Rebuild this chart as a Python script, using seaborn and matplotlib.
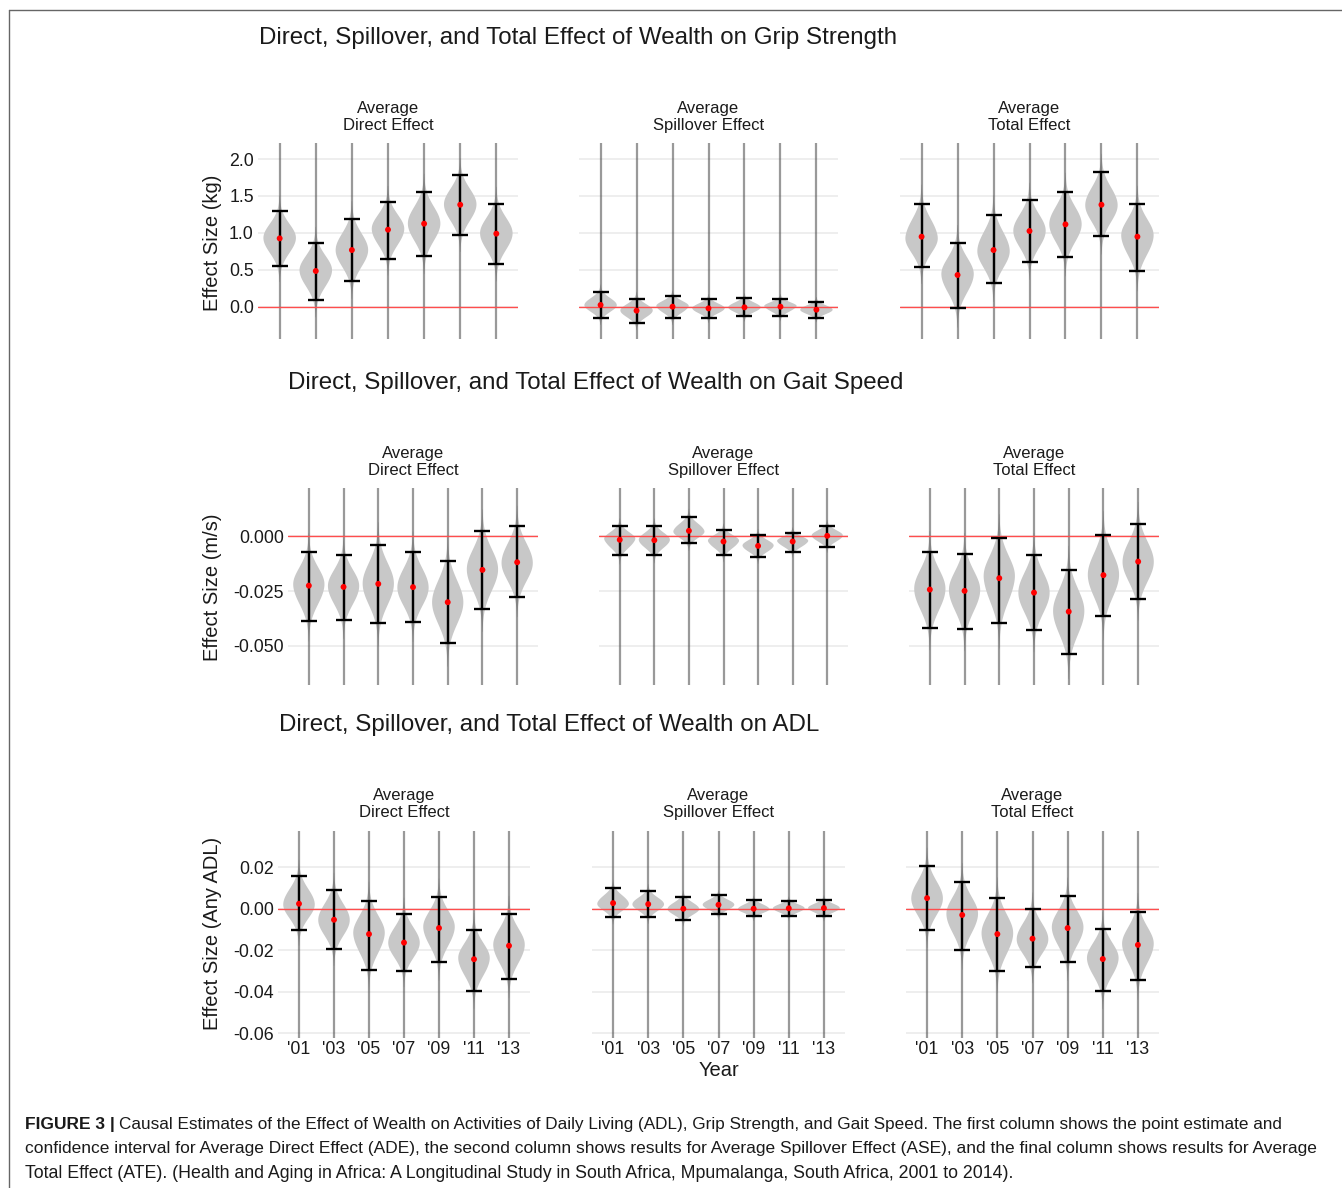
import numpy as np
import pandas as pd
import matplotlib
matplotlib.use("Agg")
import matplotlib.pyplot as plt
from matplotlib.lines import Line2D
import seaborn as sns
from statistics import NormalDist

years = ["'01", "'03", "'05", "'07", "'09", "'11", "'13"]
effect_names = ["Average\nDirect Effect", "Average\nSpillover Effect", "Average\nTotal Effect"]

# Grip strength (kg): point estimate, CI low, CI high
grip_direct_est = [0.925, 0.483, 0.767, 1.043, 1.124, 1.381, 0.989]
grip_direct_lo = [0.55, 0.086, 0.348, 0.650, 0.691, 0.975, 0.578]
grip_direct_hi = [1.29, 0.862, 1.187, 1.418, 1.553, 1.779, 1.391]
grip_spill_est = [0.023, -0.054, 0.0, -0.023, -0.009, 0.0, -0.041]
grip_spill_lo = [-0.149, -0.221, -0.158, -0.149, -0.131, -0.126, -0.149]
grip_spill_hi = [0.199, 0.108, 0.14, 0.099, 0.113, 0.108, 0.068]
grip_total_est = [0.948, 0.429, 0.767, 1.025, 1.115, 1.381, 0.948]
grip_total_lo = [0.542, -0.023, 0.321, 0.605, 0.668, 0.953, 0.479]
grip_total_hi = [1.395, 0.858, 1.237, 1.440, 1.558, 1.819, 1.386]

# Gait speed (m/s)
gait_direct_est = [-0.0225, -0.0231, -0.0217, -0.0232, -0.0301, -0.0153, -0.0118]
gait_direct_lo = [-0.0387, -0.0382, -0.0398, -0.0391, -0.0488, -0.0333, -0.0277]
gait_direct_hi = [-0.0073, -0.0087, -0.0038, -0.0070, -0.0113, 0.0023, 0.0046]
gait_spill_est = [-0.0015, -0.0017, 0.0026, -0.0023, -0.0043, -0.0023, 0.0003]
gait_spill_lo = [-0.0087, -0.0084, -0.0032, -0.0083, -0.0095, -0.0070, -0.0046]
gait_spill_hi = [0.0047, 0.0046, 0.0090, 0.0029, 0.0006, 0.0018, 0.0049]
gait_total_est = [-0.0243, -0.0249, -0.0191, -0.0257, -0.0344, -0.0177, -0.0115]
gait_total_lo = [-0.0419, -0.0424, -0.0395, -0.0430, -0.0540, -0.0366, -0.0286]
gait_total_hi = [-0.0073, -0.0081, -0.0005, -0.0084, -0.0153, 0.0009, 0.0058]

# ADL (any ADL)
adl_direct_est = [0.0024, -0.0053, -0.0122, -0.0163, -0.0093, -0.0243, -0.0178]
adl_direct_lo = [-0.0104, -0.0194, -0.0293, -0.0299, -0.0254, -0.0394, -0.0338]
adl_direct_hi = [0.0158, 0.0090, 0.0038, -0.0026, 0.0058, -0.0102, -0.0026]
adl_spill_est = [0.0027, 0.0022, 0.0, 0.0019, 0.0, 0.0002, 0.0003]
adl_spill_lo = [-0.0038, -0.0038, -0.0054, -0.0027, -0.0037, -0.0035, -0.0037]
adl_spill_hi = [0.0098, 0.0083, 0.0056, 0.0064, 0.0040, 0.0038, 0.0042]
adl_total_est = [0.0051, -0.0030, -0.0122, -0.0144, -0.0093, -0.0242, -0.0174]
adl_total_lo = [-0.0101, -0.0197, -0.0302, -0.0280, -0.0254, -0.0394, -0.0342]
adl_total_hi = [0.0205, 0.0128, 0.0051, -0.0003, 0.0061, -0.0098, -0.0016]

rows = [
    dict(title="Direct, Spillover, and Total Effect of Wealth on Grip Strength",
         ylabel="Effect Size (kg)",
         panels=[(grip_direct_est, grip_direct_lo, grip_direct_hi),
                 (grip_spill_est, grip_spill_lo, grip_spill_hi),
                 (grip_total_est, grip_total_lo, grip_total_hi)],
         yticks=[0.0, 0.5, 1.0, 1.5, 2.0], fmt="{:.1f}", ylim=(-0.438, 2.217)),
    dict(title="Direct, Spillover, and Total Effect of Wealth on Gait Speed",
         ylabel="Effect Size (m/s)",
         panels=[(gait_direct_est, gait_direct_lo, gait_direct_hi),
                 (gait_spill_est, gait_spill_lo, gait_spill_hi),
                 (gait_total_est, gait_total_lo, gait_total_hi)],
         yticks=[-0.05, -0.025, 0.0], fmt="{:.3f}", ylim=(-0.0680, 0.0222)),
    dict(title="Direct, Spillover, and Total Effect of Wealth on ADL",
         ylabel="Effect Size (Any ADL)",
         panels=[(adl_direct_est, adl_direct_lo, adl_direct_hi),
                 (adl_spill_est, adl_spill_lo, adl_spill_hi),
                 (adl_total_est, adl_total_lo, adl_total_hi)],
         yticks=[-0.06, -0.04, -0.02, 0.0, 0.02], fmt="{:.2f}", ylim=(-0.0622, 0.0374)),
]

# layout in pixels (figure is 1342 x 1188)
W, H = 1342, 1188
panel_x = [
    [(258, 518), (579, 838), (900, 1159)],
    [(288, 538), (599, 848), (909, 1159)],
    [(278, 530), (592, 845), (906, 1159)],
]
panel_y = [(143, 339), (488, 685), (831, 1038)]
title_pos = [(259, 38), (288, 383), (279, 725)]
subtitle_y = [117, 462, 804]
ylabel_y = [243, 587, 933]


def draws(est, lo, hi, n=500):
    # reconstruct a posterior-like sample from the point estimate and CI
    vals = []
    for e, l, h in zip(est, lo, hi):
        sd_lo = max((e - l) / 1.96, 1e-9)
        sd_hi = max((h - e) / 1.96, 1e-9)
        for i in range(n):
            z = NormalDist().inv_cdf((i + 0.5) / n)
            vals.append(e + z * (sd_hi if z > 0 else sd_lo))
    return np.array(vals)


sns.set_theme(style="white")
plt.rcParams["font.family"] = ["Liberation Sans", "DejaVu Sans"]

fig = plt.figure(figsize=(W / 100, H / 100), dpi=100)

for r, row in enumerate(rows):
    y0, y1 = panel_y[r]
    for c, (est, lo, hi) in enumerate(row["panels"]):
        x0, x1 = panel_x[r][c]
        ax = fig.add_axes([x0 / W, 1 - y1 / H, (x1 - x0) / W, (y1 - y0) / H])
        df = pd.DataFrame({
            "year": np.repeat(years, 500),
            "value": draws(est, lo, hi),
        })
        sns.violinplot(data=df, x="year", y="value", order=years, ax=ax,
                       color="#c8c8c8", saturation=1, linewidth=0, inner=None,
                       cut=0, density_norm="width", width=0.9)
        for coll in ax.collections:
            coll.set_edgecolor("none")
            coll.set_zorder(1)
        pos = np.arange(len(years))
        ax.vlines(pos, 0, 1, transform=ax.get_xaxis_transform(),
                  color="#555555", alpha=0.6, lw=1.6, zorder=1.5)
        ax.axhline(0, color="#ff4d4d", lw=1.0, zorder=1.6)
        est_a, lo_a, hi_a = np.array(est), np.array(lo), np.array(hi)
        ax.errorbar(pos, est_a, yerr=[est_a - lo_a, hi_a - est_a], fmt="none",
                    ecolor="black", elinewidth=1.7, capsize=6, capthick=1.7, zorder=3)
        ax.scatter(pos, est_a, s=18, color="red", edgecolor="none", zorder=4)

        ax.set_xlim(-0.6, 6.6)
        ax.set_ylim(*row["ylim"])
        ax.set_yticks(row["yticks"])
        ax.grid(axis="y", color="#ebebeb", lw=1.2)
        ax.grid(axis="x", visible=False)
        ax.set_axisbelow(True)
        for s in ax.spines.values():
            s.set_visible(False)
        ax.set_xlabel("")
        ax.set_ylabel("")
        ax.tick_params(length=0, labelsize=12.8, colors="#1a1a1a", pad=3)
        if c == 0:
            ax.set_yticklabels([row["fmt"].format(v) for v in row["yticks"]])
        else:
            ax.set_yticklabels([])
        if r == 2:
            ax.set_xticks(pos)
            ax.set_xticklabels(years)
            ax.tick_params(axis="x", pad=2)
        else:
            ax.set_xticklabels([])

        fig.text((x0 + x1) / 2 / W, 1 - subtitle_y[r] / H, effect_names[c],
                 ha="center", va="center", fontsize=12, linespacing=1.2,
                 color="#1a1a1a")

    tx, ty = title_pos[r]
    fig.text(tx / W, 1 - ty / H, row["title"], ha="left", va="center",
             fontsize=17.4, color="#1a1a1a")
    fig.text(212 / W, 1 - ylabel_y[r] / H, row["ylabel"], rotation=90,
             ha="center", va="center", fontsize=14.5, color="#1a1a1a")

fig.text(719 / W, 1 - 1071 / H, "Year", ha="center", va="center",
         fontsize=14.5, color="#1a1a1a")

# frame around the figure
fig.add_artist(Line2D([9 / W, 1], [1 - 10 / H, 1 - 10 / H], color="#666666", lw=1))
fig.add_artist(Line2D([9 / W, 9 / W], [0, 1 - 10 / H], color="#666666", lw=1))

# caption
fig.text(25 / W, 1 - 1124 / H, "FIGURE 3 |", ha="left", va="center",
         fontsize=12.5, fontweight="bold", color="#1a1a1a")
fig.text(119 / W, 1 - 1124 / H,
         "Causal Estimates of the Effect of Wealth on Activities of Daily Living (ADL), "
         "Grip Strength, and Gait Speed. The first column shows the point estimate and",
         ha="left", va="center", fontsize=12.3, color="#1a1a1a")
fig.text(25 / W, 1 - 1149 / H,
         "confidence interval for Average Direct Effect (ADE), the second column shows "
         "results for Average Spillover Effect (ASE), and the final column shows results for Average",
         ha="left", va="center", fontsize=12.5, color="#1a1a1a")
fig.text(25 / W, 1 - 1173 / H,
         "Total Effect (ATE). (Health and Aging in Africa: A Longitudinal Study in South Africa, "
         "Mpumalanga, South Africa, 2001 to 2014).",
         ha="left", va="center", fontsize=12.8, color="#1a1a1a")

fig.savefig("out.png", dpi=100)
